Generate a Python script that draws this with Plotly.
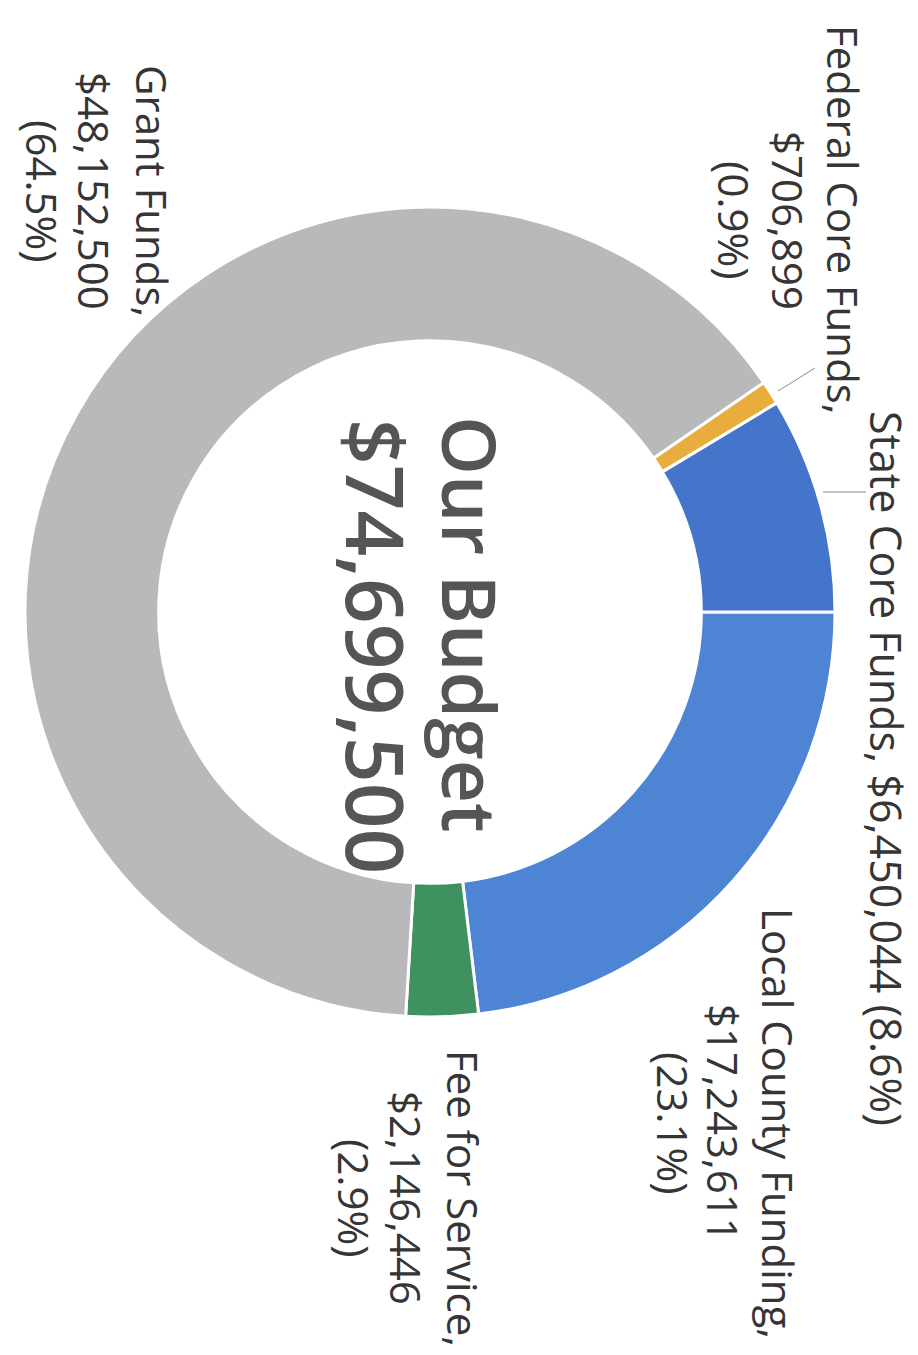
import plotly.graph_objects as go

# ---- data ----
names = ["Local County Funding", "Fee for Service", "Grant Funds",
         "Federal Core Funds", "State Core Funds"]
values = [17243611, 2146446, 48152500, 706899, 6450044]
colors = ["#4d84d4", "#3f9160", "#b9b9bc", "#e9ad3e", "#4574cb"]
center_title = "Our Budget"

total = sum(values)
pcts = [v / total * 100 for v in values]

W, H = 918, 1355
fig = go.Figure()

cx, cy, R = 422, 604, 405
fig.add_trace(go.Pie(
    labels=names, values=values, sort=False, direction="clockwise",
    rotation=90, hole=0.67, textinfo="none", hoverinfo="label+value+percent",
    marker=dict(colors=colors, line=dict(color="white", width=3)),
    domain=dict(x=[(cx - R) / W, (cx + R) / W],
                y=[1 - (cy + R) / H, 1 - (cy - R) / H]),
    showlegend=False,
))

FONT = "Open Sans"
TXT = "#353535"
ann = []

def add_line(text, px, py, size=42, color=TXT, weight=400):
    ann.append(dict(text=text, x=px / W, y=1 - py / H, xref="paper", yref="paper",
                    showarrow=False, textangle=90, xanchor="center", yanchor="middle",
                    font=dict(family=FONT, size=size, color=color, weight=weight)))

# label layout: (line x positions, block y centre) per slice
layout_pos = {
    "Local County Funding": ([771, 716, 666], 1115),
    "Fee for Service": ([456, 399, 347], 1190),
    "Grant Funds": ([144, 86, 34], 183),
    "Federal Core Funds": ([836, 781, 727], 212),
}
for n, v, p in zip(names, values, pcts):
    if n == "State Core Funds":
        add_line(f"{n}, ${v:,} ({p:.1f}%)", 878, 760, size=43)
    else:
        xs, ycen = layout_pos[n]
        lines = [f"{n},", f"${v:,}", f"({p:.1f}%)"]
        for t, x in zip(lines, xs):
            add_line(t, x, ycen)

# centre text
add_line(center_title, 463, 617, size=75, color="#555555", weight=600)
add_line(f"${total:,}", 370, 638, size=80, color="#555555", weight=600)

# leader lines
shapes = []
for (x0, y0, x1, y1) in [(770, 383, 807, 360), (815, 484, 858, 484)]:
    shapes.append(dict(type="line", xref="paper", yref="paper",
                       x0=x0 / W, y0=1 - y0 / H, x1=x1 / W, y1=1 - y1 / H,
                       line=dict(color="#8a8a8a", width=1)))

fig.update_layout(width=W, height=H, margin=dict(l=0, r=0, t=0, b=0),
                  paper_bgcolor="white", plot_bgcolor="white",
                  annotations=ann, shapes=shapes)
fig.write_html("out.html")
